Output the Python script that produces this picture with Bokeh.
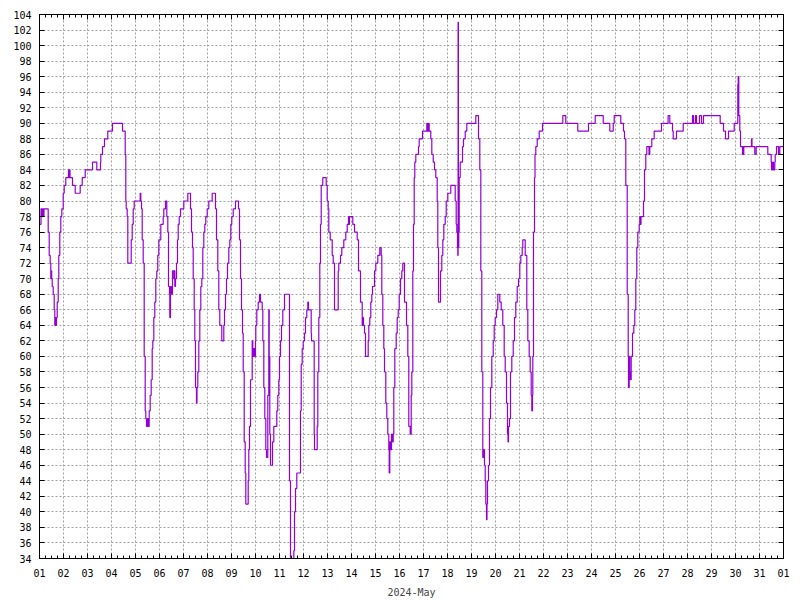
from bokeh.plotting import figure
from bokeh.models import Range1d, FixedTicker, LinearAxis
from bokeh.embed import file_html
from bokeh.resources import INLINE

# hours since 2024-05-01 00:00 and relative humidity (%)
hours = [
    0.5, 1, 1.5, 2.5, 3, 4, 4.5, 8, 8.7, 9.7, 10.7, 11.3, 11.7, 12.2, 12.7,
    13.7, 14.7, 15.3, 16, 16.5, 17, 17.7, 18.3, 18.7, 19.3, 20.3, 21.3, 22.3, 23.7, 24.7,
    26.3, 28.5, 29, 29.5, 30, 30.5, 32, 33, 35.3, 35.7, 40.3, 40.7, 42.7, 44, 45.7,
    52.3, 53, 57, 57.3, 60.3, 61, 61.3, 63, 65, 68, 68.3, 72.5, 73, 82.7, 83,
    84.3, 85.7, 86.3, 86.7, 87.7, 88.3, 91.3, 91.7, 92.7, 93.7, 94.7, 100.3, 100.7, 101.3, 102,
    102.7, 103.7, 104.7, 105.7, 106.3, 107, 108, 109, 109.7, 110.7, 111.7, 112.7, 113.3, 114.3, 115.3,
    116.3, 117.3, 118.3, 119.3, 121.3, 123.7, 124.3, 126, 127, 127.3, 128.3, 129, 130, 130.3, 131,
    132, 133, 134.3, 134.7, 135.3, 136, 137, 138, 138.7, 139.7, 141, 143, 144.3, 147.7, 148.3,
    150.3, 151, 152, 153, 153.7, 154.7, 155.3, 156, 157, 157.5, 158.3, 159.3, 160.3, 161.3, 162.3,
    163.3, 164.3, 165.3, 166.3, 167.7, 169.3, 171, 172.7, 175, 176, 177, 178.3, 179.3, 180.3, 181.3,
    182.3, 183.7, 184.3, 185, 186, 187, 188, 189.3, 190.3, 191.3, 192.3, 193.7, 196, 197.3, 199,
    200, 201, 202, 203, 203.7, 204.7, 205.7, 206.3, 208.3, 208.7, 209.3, 210, 211, 212.7, 213.3,
    214.3, 215.3, 216, 216.3, 217.3, 218.7, 220, 221, 222.7, 223.3, 224.3, 225.3, 226.3, 227, 227.7,
    228.3, 229.3, 229.7, 230.3, 231, 232.3, 233, 234.3, 237, 237.3, 238.3, 239.3, 240, 241, 242,
    243.3, 245, 248.3, 250, 251, 253, 254.3, 255, 256, 257.3, 260, 261, 261.7, 262.7, 263.7,
    265, 266, 267.3, 268.3, 269, 270.3, 271.7, 272, 274.3, 274.7, 275, 277.3, 277.7, 278.3, 279.3,
    280.3, 281, 281.7, 283.3, 286.3, 286.7, 287.7, 288.7, 289.3, 290.7, 292.7, 293.7, 295, 298.3, 298.7,
    299.3, 301, 302.3, 304.3, 306.3, 307.7, 309, 309.5, 310, 311, 313.3, 315, 317.7, 319, 321,
    322.7, 323.3, 324, 325, 326, 328.3, 328.7, 329.3, 330.3, 331.3, 332.3, 333, 334.3, 335, 336.3,
    338.3, 340.3, 341.7, 342.3, 343.3, 344.3, 345, 346.3, 347.3, 348.3, 349.3, 349.7, 350.3, 351, 352,
    353, 353.7, 354.3, 355.3, 356.7, 357.7, 358.7, 359.7, 361, 362.3, 363.3, 364.3, 365, 367, 368.3,
    369.3, 370.7, 371.3, 371.7, 372.3, 373.3, 374, 374.7, 375.3, 376.3, 377.7, 379, 379.7, 382.3, 383,
    386, 387.3, 388, 389, 389.7, 390.7, 391.3, 392.3, 393.7, 395, 396.3, 397.7, 398.3, 399, 400.7,
    401, 402.3, 403.3, 404.3, 405.7, 406.7, 408.3, 411.3, 414.7, 415.7, 416.7, 417.3, 418, 418.3, 418.6,
    418.9, 419.3, 419.7, 420.7, 422, 423, 424, 425.7, 427.3, 435.7, 436.3, 438.3, 439, 440.3, 441.3,
    442.3, 443.3, 444, 445, 445.7, 446.3, 447, 447.5, 448, 449, 450, 451, 452.3, 453.7, 454.7,
    455.7, 457, 458.3, 459.7, 460.3, 461.7, 463.3, 464.7, 465.7, 467, 468, 468.5, 469, 470, 471,
    472.3, 473.7, 475, 476.3, 477.7, 479, 480.3, 481.3, 482.7, 483.3, 485.3, 485.7, 487.3, 488.3, 489.7,
    490.7, 491.7, 492.3, 493, 493.3, 494, 495, 495.5, 496.3, 497.7, 499.7, 503, 523, 523.3, 526,
    526.3, 538, 538.3, 548, 549, 555.3, 555.7, 563, 563.7, 569.7, 570.3, 573, 573.7, 574.3, 574.7,
    580.3, 581.3, 583.7, 584, 585, 586.3, 587.7, 588.7, 589, 589.7, 590.3, 590.7, 591.7, 593, 594.3,
    595.3, 596.3, 597.3, 598.3, 599.7, 600.3, 601, 601.5, 603, 604, 605, 606.3, 607.3, 609, 609.5,
    610.3, 612.3, 614.7, 621.7, 622, 628.3, 628.6, 630, 630.3, 632.7, 633, 633.7, 636, 637, 643.3,
    643.7, 652.7, 653, 654, 656, 657, 660, 662, 664, 680.3, 680.7, 683.7, 684, 686, 688.7,
    689, 694.3, 694.7, 698, 698.3, 698.7, 699.3, 700.3, 701, 703, 703.5, 704, 704.3, 711.7, 712,
    712.5, 715, 715.3, 716.3, 716.7, 728, 728.3, 731.3, 731.7, 732, 733, 734, 735.3, 735.7, 737,
    738.7, 739, 740, 740.3, 744,
]
humidity = [
    77, 77, 79, 78, 79, 78, 79, 79, 76, 73, 72, 70, 71, 70, 69,
    68, 66, 64, 65, 64, 65, 67, 67, 70, 73, 76, 78, 79, 81, 82,
    83, 83, 84, 83, 84, 83, 83, 82, 82, 81, 81, 82, 83, 83, 84,
    84, 85, 85, 84, 84, 85, 86, 87, 88, 88, 89, 89, 90, 90, 89,
    89, 86, 80, 79, 78, 72, 72, 75, 77, 79, 80, 80, 81, 80, 79,
    75, 72, 60, 53, 52, 51, 52, 51, 53, 55, 57, 61, 62, 65, 67,
    70, 71, 73, 75, 77, 78, 79, 80, 80, 78, 76, 69, 68, 65, 69,
    68, 71, 70, 71, 69, 70, 72, 75, 77, 78, 79, 79, 80, 80, 81,
    81, 79, 76, 74, 70, 66, 62, 56, 54, 56, 58, 62, 66, 69, 70,
    74, 76, 77, 78, 79, 80, 80, 81, 81, 79, 75, 71, 66, 64, 64,
    62, 62, 64, 66, 68, 70, 72, 74, 75, 77, 78, 79, 80, 80, 79,
    75, 70, 66, 63, 58, 49, 45, 41, 41, 44, 48, 51, 57, 62, 60,
    61, 60, 62, 64, 66, 67, 68, 67, 66, 62, 56, 52, 48, 47, 47,
    55, 66, 60, 50, 46, 46, 49, 51, 51, 53, 55, 57, 60, 62, 64,
    66, 68, 68, 44, 34, 34, 35, 40, 43, 45, 45, 53, 59, 61, 62,
    63, 65, 66, 67, 66, 66, 63, 62, 62, 50, 48, 48, 51, 58, 65,
    72, 77, 82, 83, 83, 82, 80, 79, 76, 75, 73, 72, 66, 66, 71,
    72, 73, 74, 75, 76, 77, 78, 77, 78, 78, 77, 76, 75, 71, 67,
    64, 65, 64, 63, 60, 60, 62, 64, 65, 67, 68, 69, 69, 71, 72,
    73, 74, 73, 68, 64, 61, 58, 54, 52, 50, 48, 45, 49, 48, 50,
    49, 50, 56, 61, 63, 65, 66, 68, 70, 71, 72, 72, 67, 64, 60,
    51, 50, 50, 55, 58, 71, 77, 83, 85, 86, 86, 87, 88, 88, 89,
    89, 90, 89, 90, 89, 89, 88, 86, 85, 84, 83, 80, 74, 67, 67,
    71, 73, 75, 77, 78, 80, 81, 82, 82, 80, 77, 76, 74, 73, 103,
    74, 76, 83, 85, 85, 87, 88, 89, 90, 90, 91, 91, 88, 84, 71,
    58, 47, 48, 46, 44, 41, 39, 41, 44, 46, 52, 56, 60, 62, 64,
    65, 66, 68, 68, 67, 66, 64, 60, 58, 54, 50, 49, 51, 52, 58,
    60, 62, 65, 67, 69, 70, 72, 73, 74, 75, 75, 73, 66, 62, 60,
    58, 55, 53, 55, 60, 76, 83, 86, 87, 88, 89, 90, 90, 91, 91,
    90, 90, 89, 89, 90, 90, 91, 91, 90, 90, 89, 89, 90, 90, 91,
    91, 90, 90, 89, 88, 82, 68, 60, 56, 60, 58, 57, 60, 63, 64,
    66, 70, 74, 76, 77, 78, 77, 78, 78, 80, 84, 86, 87, 87, 86,
    87, 88, 89, 89, 90, 90, 91, 91, 90, 90, 89, 88, 88, 89, 89,
    90, 90, 91, 90, 91, 90, 91, 90, 91, 91, 90, 90, 89, 88, 88,
    89, 89, 90, 90, 95, 96, 91, 89, 87, 86, 87, 86, 87, 87, 88,
    87, 87, 86, 86, 87, 87, 86, 86, 85, 84, 85, 84, 85, 86, 87,
    87, 86, 86, 87, 87,
]

day_ticks = list(range(0, 745, 24))
day_labels = ["%02d" % d for d in range(1, 32)] + ["01"]
minor_hours = [h for h in range(0, 745, 6) if h % 24 != 0]
y_ticks = list(range(34, 105, 2))

FONT = "DejaVu Sans Mono"
p = figure(width=800, height=600, output_backend="svg", toolbar_location=None,
           x_range=Range1d(0, 744), y_range=Range1d(34, 104),
           min_border_left=39, min_border_right=17, min_border_top=14, min_border_bottom=42)
p.background_fill_color = "white"
p.border_fill_color = "white"
p.outline_line_color = "black"
p.outline_line_width = 1

xt = FixedTicker(ticks=day_ticks, minor_ticks=minor_hours)
yt = FixedTicker(ticks=y_ticks, minor_ticks=[])

def style_axis(ax):
    ax.axis_line_color = "black"
    ax.major_tick_in = 5
    ax.major_tick_out = 0
    ax.minor_tick_in = 3
    ax.minor_tick_out = 0
    ax.major_tick_line_color = "black"
    ax.minor_tick_line_color = "black"
    ax.major_label_text_font = FONT
    ax.major_label_text_font_size = "10px"
    ax.major_label_text_color = "black"

xa = p.xaxis[0]
xa.ticker = xt
xa.major_label_overrides = {t: l for t, l in zip(day_ticks, day_labels)}
style_axis(xa)
xa.major_label_standoff = 10
xa.axis_label = "2024-May"
xa.axis_label_text_font = FONT
xa.axis_label_text_font_size = "10px"
xa.axis_label_text_font_style = "normal"
xa.axis_label_standoff = 7

ya = p.yaxis[0]
ya.ticker = yt
style_axis(ya)
ya.major_label_standoff = 8

# mirrored tick marks on the top and right edges (no labels)
top = LinearAxis(ticker=xt, major_label_overrides={t: "" for t in day_ticks})
style_axis(top)
top.major_label_standoff = 0
p.add_layout(top, "above")
right = LinearAxis(ticker=yt, major_label_overrides={t: "" for t in y_ticks})
style_axis(right)
right.major_label_standoff = 0
p.add_layout(right, "right")

for g in (p.xgrid[0], p.ygrid[0]):
    g.grid_line_color = "#a0a0a0"
    g.grid_line_dash = "2 2"
    g.grid_line_width = 1
p.xgrid[0].ticker = xt
p.ygrid[0].ticker = yt

p.step(hours, humidity, mode="after", line_color="#9400D3", line_width=1.2)

open("out.html", "w").write(file_html(p, INLINE))
